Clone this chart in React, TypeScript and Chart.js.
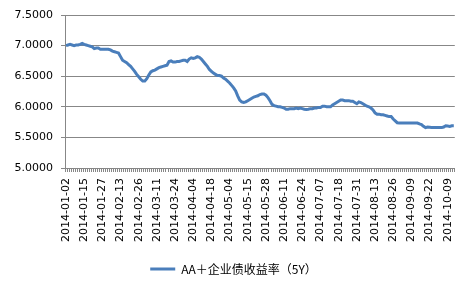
import React, { useEffect, useRef } from "react";
import { Chart, registerables } from "chart.js";

Chart.register(...registerables);

const dates: string[] = [
  "2014-01-02","2014-01-03","2014-01-06","2014-01-07","2014-01-08","2014-01-09","2014-01-10","2014-01-13","2014-01-14","2014-01-15",
  "2014-01-16","2014-01-17","2014-01-20","2014-01-21","2014-01-22","2014-01-23","2014-01-24","2014-01-26","2014-01-27","2014-01-28",
  "2014-01-29","2014-01-30","2014-02-07","2014-02-08","2014-02-10","2014-02-11","2014-02-12","2014-02-13","2014-02-14","2014-02-17",
  "2014-02-18","2014-02-19","2014-02-20","2014-02-21","2014-02-24","2014-02-25","2014-02-26","2014-02-27","2014-02-28","2014-03-03",
  "2014-03-04","2014-03-05","2014-03-06","2014-03-07","2014-03-10","2014-03-11","2014-03-12","2014-03-13","2014-03-14","2014-03-17",
  "2014-03-18","2014-03-19","2014-03-20","2014-03-21","2014-03-24","2014-03-25","2014-03-26","2014-03-27","2014-03-28","2014-03-31",
  "2014-04-01","2014-04-02","2014-04-03","2014-04-04","2014-04-08","2014-04-09","2014-04-10","2014-04-11","2014-04-14","2014-04-15",
  "2014-04-16","2014-04-17","2014-04-18","2014-04-21","2014-04-22","2014-04-23","2014-04-24","2014-04-25","2014-04-28","2014-04-29",
  "2014-04-30","2014-05-04","2014-05-05","2014-05-06","2014-05-07","2014-05-08","2014-05-09","2014-05-12","2014-05-13","2014-05-14",
  "2014-05-15","2014-05-16","2014-05-19","2014-05-20","2014-05-21","2014-05-22","2014-05-23","2014-05-26","2014-05-27","2014-05-28",
  "2014-05-29","2014-05-30","2014-06-03","2014-06-04","2014-06-05","2014-06-06","2014-06-09","2014-06-10","2014-06-11","2014-06-12",
  "2014-06-13","2014-06-16","2014-06-17","2014-06-18","2014-06-19","2014-06-20","2014-06-23","2014-06-24","2014-06-25","2014-06-26",
  "2014-06-27","2014-06-30","2014-07-01","2014-07-02","2014-07-03","2014-07-04","2014-07-07","2014-07-08","2014-07-09","2014-07-10",
  "2014-07-11","2014-07-14","2014-07-15","2014-07-16","2014-07-17","2014-07-18","2014-07-21","2014-07-22","2014-07-23","2014-07-24",
  "2014-07-25","2014-07-28","2014-07-29","2014-07-30","2014-07-31","2014-08-01","2014-08-04","2014-08-05","2014-08-06","2014-08-07",
  "2014-08-08","2014-08-11","2014-08-12","2014-08-13","2014-08-14","2014-08-15","2014-08-18","2014-08-19","2014-08-20","2014-08-21",
  "2014-08-22","2014-08-25","2014-08-26","2014-08-27","2014-08-28","2014-08-29","2014-09-01","2014-09-02","2014-09-03","2014-09-04",
  "2014-09-05","2014-09-09","2014-09-10","2014-09-11","2014-09-12","2014-09-15","2014-09-16","2014-09-17","2014-09-18","2014-09-19",
  "2014-09-22","2014-09-23","2014-09-24","2014-09-25","2014-09-26","2014-09-28","2014-09-29","2014-09-30","2014-10-08","2014-10-09",
  "2014-10-10","2014-10-11","2014-10-13"
];

const yields: number[] = [
  7.00,7.01,7.02,7.01,7.00,7.01,7.01,7.02,7.035,7.02,
  7.01,7.00,6.99,6.98,6.95,6.96,6.96,6.94,6.94,6.94,
  6.94,6.94,6.93,6.91,6.90,6.89,6.88,6.82,6.76,6.74,
  6.72,6.69,6.66,6.62,6.58,6.53,6.49,6.45,6.42,6.42,
  6.46,6.52,6.57,6.59,6.60,6.62,6.64,6.65,6.66,6.67,
  6.68,6.74,6.75,6.73,6.73,6.74,6.74,6.75,6.76,6.76,
  6.74,6.78,6.80,6.79,6.80,6.82,6.81,6.78,6.74,6.70,
  6.66,6.61,6.58,6.55,6.53,6.51,6.51,6.50,6.47,6.45,
  6.42,6.39,6.35,6.31,6.26,6.18,6.11,6.08,6.07,6.08,
  6.10,6.12,6.14,6.16,6.17,6.18,6.20,6.21,6.21,6.19,
  6.15,6.10,6.04,6.02,6.01,6.00,6.00,5.99,5.98,5.96,
  5.96,5.97,5.97,5.97,5.98,5.97,5.98,5.97,5.96,5.955,
  5.96,5.97,5.97,5.98,5.98,5.99,5.99,6.01,6.01,6.00,
  6.00,6.00,6.03,6.05,6.07,6.09,6.11,6.11,6.10,6.10,
  6.10,6.09,6.09,6.07,6.05,6.08,6.07,6.05,6.03,6.01,
  6.00,5.98,5.95,5.90,5.88,5.88,5.87,5.87,5.86,5.85,
  5.84,5.84,5.80,5.77,5.74,5.735,5.735,5.735,5.735,5.735,
  5.735,5.735,5.735,5.735,5.735,5.72,5.71,5.68,5.66,5.67,
  5.665,5.66,5.66,5.66,5.66,5.66,5.66,5.67,5.69,5.685,
  5.68,5.69,5.69
];

const seriesName = "AA＋企业债收益率（5Y）";
const yMin = 5.0;
const yMax = 7.5;
const yStep = 0.5;
const labelEvery = 9;

const LINE = "#4A7EBB";
const GRID = "#878787";

export default function App() {
  const ref = useRef<HTMLCanvasElement | null>(null);
  useEffect(() => {
    document.body.style.margin = "0";
    const ctx = ref.current!.getContext("2d")!;
    const chart = new Chart(ctx, {
      type: "line",
      data: {
        labels: dates,
        datasets: [
          {
            label: seriesName,
            data: yields,
            borderColor: LINE,
            backgroundColor: LINE,
            borderWidth: 3,
            pointRadius: 0,
            tension: 0,
            fill: false,
          },
        ],
      },
      options: {
        animation: false,
        responsive: false,
        maintainAspectRatio: false,
        layout: { padding: { top: 15, right: 6, left: 0, bottom: 12 } },
        plugins: {
          tooltip: { enabled: false },
          legend: {
            position: "bottom",
            labels: {
              boxWidth: 25,
              boxHeight: 3,
              padding: 10,
              color: "#000",
              font: { family: "'Noto Sans CJK SC', 'DejaVu Sans'", size: 12 },
              generateLabels: () => [
                {
                  text: seriesName,
                  fillStyle: LINE,
                  strokeStyle: LINE,
                  lineWidth: 0,
                  hidden: false,
                  datasetIndex: 0,
                } as any,
              ],
            },
          },
        },
        scales: {
          x: {
            type: "category",
            offset: true,
            grid: {
              display: true,
              drawOnChartArea: false,
              drawTicks: true,
              tickLength: 4,
              color: GRID,
              offset: true,
            },
            border: { display: true, color: GRID, width: 1 },
            ticks: {
              autoSkip: false,
              maxRotation: 90,
              minRotation: 90,
              padding: 6,
              color: "#000",
              font: { family: "'DejaVu Sans'", size: 11 },
              callback: (_v: any, i: number) => (i % labelEvery === 0 ? dates[i] : ""),
            },
            afterFit: (s: any) => {
              s.height = 85;
            },
          },
          y: {
            min: yMin,
            max: yMax,
            grid: {
              color: GRID,
              tickLength: 4,
              drawTicks: true,
            },
            border: { display: true, color: GRID, width: 1 },
            ticks: {
              stepSize: yStep,
              padding: 8,
              color: "#000",
              font: { family: "'DejaVu Sans'", size: 11 },
              callback: (v: any) => Number(v).toFixed(4),
            },
            afterFit: (s: any) => {
              s.width = 65;
            },
          },
        },
      },
    });
    return () => chart.destroy();
  }, []);
  return (
    <div style={{ position: "fixed", left: 0, top: 0, width: 473, height: 297, background: "#fff" }}>
      <canvas ref={ref} width={473} height={297} style={{ width: 473, height: 297 }} />
    </div>
  );
}
